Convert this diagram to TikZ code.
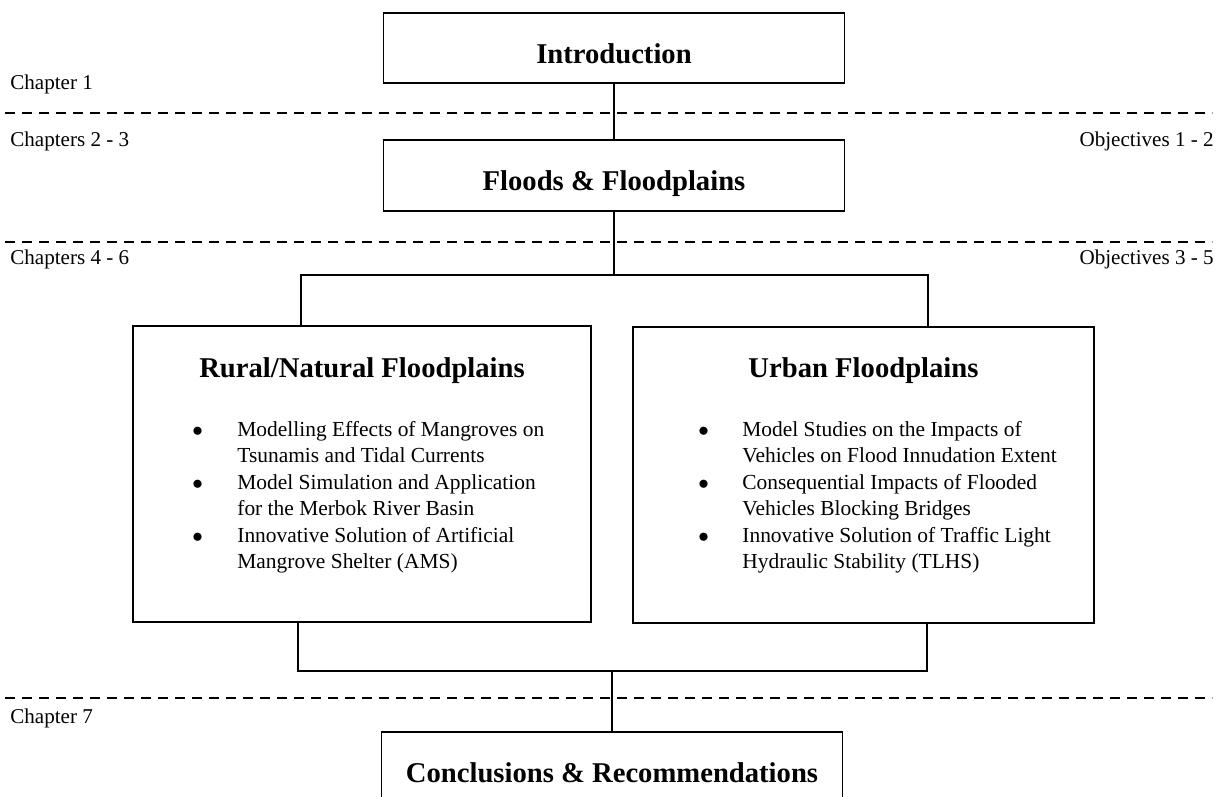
\documentclass[tikz,border=0pt]{standalone}
\usepackage{fontspec}
\setmainfont{Liberation Serif}
\usepackage{tikz}
\usetikzlibrary{calc}
\usetikzlibrary{positioning}

\newcommand{\titlefnt}{\fontsize{16.3}{19}\selectfont\bfseries}
\newcommand{\listfnt}{\fontsize{12.2}{15.1}\selectfont}

\begin{document}
\begin{tikzpicture}[
        titlebox/.style={draw,line width=1.1pt,minimum width=9.22cm,minimum height=1.41cm,
            font=\titlefnt,text height=0.72cm,text depth=0.1cm},
        bigbox/.style={draw,line width=1.1pt,minimum height=5.92cm},
        heading/.style={font=\titlefnt,anchor=base},
        itemlist/.style={font=\listfnt,anchor=base west,inner sep=0pt},
        sidelabel/.style={font=\fontsize{12}{14}\selectfont,inner sep=0pt},
        link/.style={line width=0.8pt},
        sepline/.style={line width=0.9pt,dash pattern=on 0.2cm off 0.14cm}
    ]
        \useasboundingbox (0,0) rectangle (24.5,15.94);

        % separators between the parts
        \foreach \yy in {13.68,11.10,1.98}
            \draw[sepline] (0.1,\yy) -- (24.24,\yy);

        \node[sidelabel,anchor=west] (chOne) at (0.2,14.26) {Chapter 1};
        \node[sidelabel,anchor=west] (chTwo) at (0.2,13.12) {Chapters 2 - 3};
        \node[sidelabel,anchor=west] (chFour) at (0.2,10.76) {Chapters 4 - 6};
        \node[sidelabel,anchor=west] (chSeven) at (0.2,1.58) {Chapter 7};
        \node[sidelabel,anchor=east] (objOne) at (24.28,13.12) {Objectives 1 - 2};
        \node[sidelabel,anchor=east] (objThree) at (24.28,10.76) {Objectives 3 - 5};

        \node[titlebox] (intro) at (12.28,14.98) {Introduction};
        \node[titlebox] (floods) at (12.28,12.43) {Floods \& Floodplains};
        \node[titlebox] (concl) at (12.24,0.59) {Conclusions \& Recommendations};

        \node[bigbox,minimum width=9.16cm] (rural) at (7.24,6.46) {};
        \node[bigbox,minimum width=9.22cm] (urban) at (17.27,6.44) {};

        \node[heading] (ruralHead) at ([yshift=-1.04cm]rural.north) {Rural/Natural Floodplains};
        \node[heading] (urbanHead) at ([yshift=-1.02cm]urban.north) {Urban Floodplains};

        \node[itemlist] (ruralList) at ([xshift=1.2cm,yshift=-2.22cm]rural.north west) {%
            \begin{tabular}[t]{@{}p{0.9cm}@{}l@{}}
                $\bullet$ & Modelling Effects of Mangroves on\\
                          & Tsunamis and Tidal Currents\\
                $\bullet$ & Model Simulation and Application\\
                          & for the Merbok River Basin\\
                $\bullet$ & Innovative Solution of Artificial\\
                          & Mangrove Shelter (AMS)
            \end{tabular}};
        \node[itemlist] (urbanList) at ([xshift=1.32cm,yshift=-2.20cm]urban.north west) {%
            \begin{tabular}[t]{@{}p{0.88cm}@{}l@{}}
                $\bullet$ & Model Studies on the Impacts of\\
                          & Vehicles on Flood Innudation Extent\\
                $\bullet$ & Consequential Impacts of Flooded\\
                          & Vehicles Blocking Bridges\\
                $\bullet$ & Innovative Solution of Traffic Light\\
                          & Hydraulic Stability (TLHS)
            \end{tabular}};

        % connectors
        \coordinate (topSplit) at (12.28,10.44);
        \coordinate (ruralTop) at (6.02,10.44);
        \coordinate (urbanTop) at (18.56,10.44);
        \coordinate (ruralBot) at (5.96,2.52);
        \coordinate (urbanBot) at (18.54,2.52);
        \coordinate (botJoin) at (12.24,2.52);

        \draw[link] (intro) -- (floods);
        \draw[link] (floods) -- (topSplit);
        \draw[link] (ruralTop |- rural.north) -- (ruralTop) -- (urbanTop) -- (urbanTop |- urban.north);
        \draw[link] (rural.south -| ruralBot) -- (ruralBot) -- (urbanBot) -- (urban.south -| urbanBot);
        \draw[link] (botJoin) -- (concl);
    \end{tikzpicture}
\end{document}
